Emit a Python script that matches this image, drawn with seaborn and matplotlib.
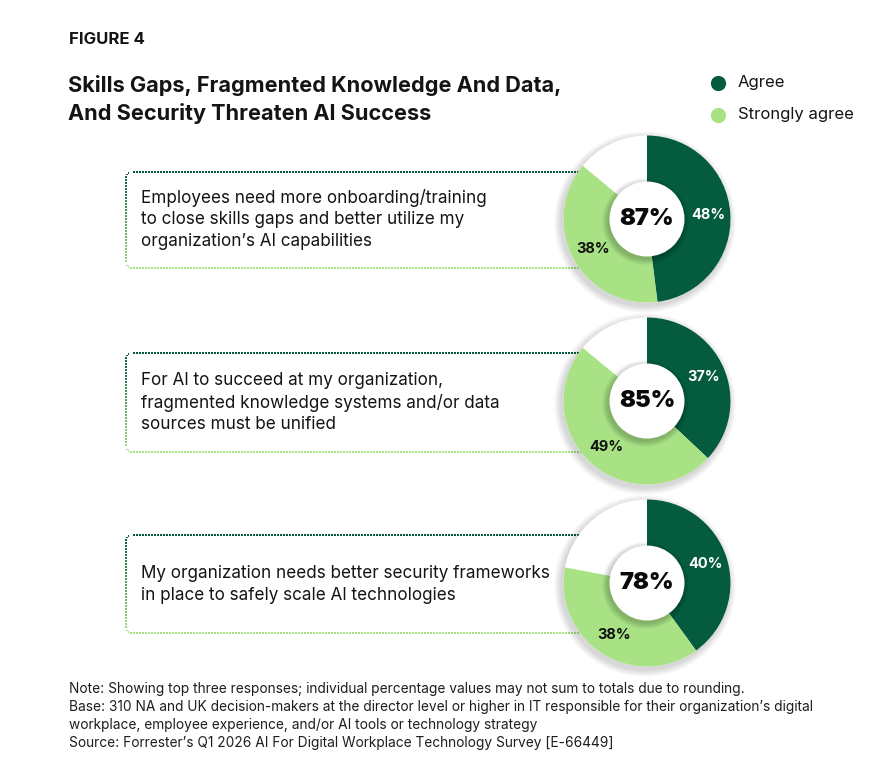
import matplotlib
matplotlib.use("Agg")
import matplotlib.pyplot as plt
import seaborn as sns
import numpy as np
from matplotlib.patches import Circle
from matplotlib.colors import to_rgb

sns.set_theme(style="white")
plt.rcParams['font.family'] = ['Inter', 'DejaVu Sans']

# ---------------- data ----------------
series = ["Agree", "Strongly agree"]
statements = [
    ["Employees need more onboarding/training",
     "to close skills gaps and better utilize my",
     "organization\u2019s AI capabilities"],
    ["For AI to succeed at my organization,",
     "fragmented knowledge systems and/or data",
     "sources must be unified"],
    ["My organization needs better security frameworks",
     "in place to safely scale AI technologies"],
]
agree = [48, 37, 40]
strongly_agree = [38, 49, 38]
totals = [87, 85, 78]

figure_label = "FIGURE 4"
title_lines = ["Skills Gaps, Fragmented Knowledge And Data,",
               "And Security Threaten AI Success"]
notes = [
    "Note: Showing top three responses; individual percentage values may not sum to totals due to rounding.",
    "Base: 310 NA and UK decision-makers at the director level or higher in IT responsible for their organization\u2019s digital",
    "workplace, employee experience, and/or AI tools or technology strategy",
    "Source: Forrester\u2019s Q1 2026 AI For Digital Workplace Technology Survey [E-66449]",
]

palette = sns.color_palette(["#045B3E", "#A8E285"])
dark, light = palette

W, H = 885, 770
fig = plt.figure(figsize=(W / 100, H / 100), dpi=100)
fig.patch.set_facecolor("white")
ax = fig.add_axes([0, 0, 1, 1])


def Y(y):
    return H - y


txt_col = "#141414"

# header
ax.text(69, Y(40), figure_label, fontsize=12.0, fontweight="bold", color=txt_col,
        va="center", ha="left")
for i, line in enumerate(title_lines):
    ax.text(68, Y(86 + i * 28), line, fontsize=15.6, fontweight="bold",
            color=txt_col, va="center", ha="left")

# legend
for i, (name, col) in enumerate(zip(series, palette)):
    ax.scatter([718], [Y(83 + i * 32)], s=120, color=col, zorder=5, linewidths=0)
    ax.text(738, Y(83 + i * 32), name, fontsize=12.0, color=txt_col,
            va="center", ha="left")

# rows
centers_y = [219, 401, 583]
box_tops = [172, 353, 535]
box_bottoms = [268, 452, 633]
cx = 647
R = 83.5
r_in = 37.5


def dotted_box(x0, x1, top, bottom, rad=5, step=3.0):
    pts = []
    for x in np.arange(x1, x0 + rad, -step):
        pts.append((x, top))
    for a in np.linspace(90, 180, 4)[1:-1]:
        pts.append((x0 + rad + rad * np.cos(np.radians(a)),
                    top + rad - rad * np.sin(np.radians(a))))
    for y in np.arange(top + rad, bottom - rad, step):
        pts.append((x0, y))
    for a in np.linspace(180, 270, 4)[1:-1]:
        pts.append((x0 + rad + rad * np.cos(np.radians(a)),
                    bottom - rad - rad * np.sin(np.radians(a))))
    for x in np.arange(x0 + rad, x1, step):
        pts.append((x, bottom))
    pts = np.array(pts)
    t = (pts[:, 1] - top) / (bottom - top)
    d = np.array(to_rgb(dark))
    l = np.array(to_rgb(light))
    cols = d[None, :] * (1 - t[:, None]) + l[None, :] * t[:, None]
    ax.scatter(pts[:, 0], [Y(v) for v in pts[:, 1]], s=1.6, marker="s",
               c=cols, linewidths=0, zorder=1)


for i in range(3):
    cy = Y(centers_y[i])
    dotted_box(126, 620, box_tops[i], box_bottoms[i])

    lines = statements[i]
    n = len(lines)
    mid = (box_tops[i] + box_bottoms[i]) / 2
    for j, line in enumerate(lines):
        ax.text(141, Y(mid + (j - (n - 1) / 2) * 22), line, fontsize=12.3,
                color=txt_col, va="center", ha="left")

    # outer shadow
    for k in range(8):
        ax.add_patch(Circle((cx - 2, cy - 3), R + 1 + k * 0.9, color="black",
                            alpha=0.018, lw=0, zorder=1.5))
    ax.add_patch(Circle((cx, cy), R, color="white", lw=0, zorder=2))

    wedges, texts, autotexts = ax.pie(
        [agree[i] / 100, strongly_agree[i] / 100],
        colors=palette, startangle=90, counterclock=False, radius=R,
        center=(cx, cy), normalize=False,
        wedgeprops=dict(linewidth=0, zorder=3),
        autopct=lambda p: f"{p:.0f}%", pctdistance=0.735,
        textprops=dict(fontsize=10.5, fontweight="bold", zorder=7),
    )
    autotexts[0].set_color("white")
    autotexts[1].set_color("#111111")

    for k in range(7):
        ax.add_patch(Circle((cx - 1.5, cy - 2.5), r_in + 0.5 + k * 0.9,
                            color="black", alpha=0.03, lw=0, zorder=4))
    ax.add_patch(Circle((cx, cy), r_in, color="white", lw=0, zorder=5))
    ax.text(cx, cy, f"{totals[i]}%", fontsize=17.0, fontweight="black",
            color="#0a0a0a", ha="center", va="center", zorder=7)

# notes
for i, line in enumerate(notes):
    ax.text(69, Y(689 + i * 18), line, fontsize=9.9, color="#1e1e1e",
            va="center", ha="left")

ax.set_xlim(0, W)
ax.set_ylim(0, H)
ax.set_aspect("auto")
ax.axis("off")
fig.savefig("out.png", dpi=100, facecolor="white")
